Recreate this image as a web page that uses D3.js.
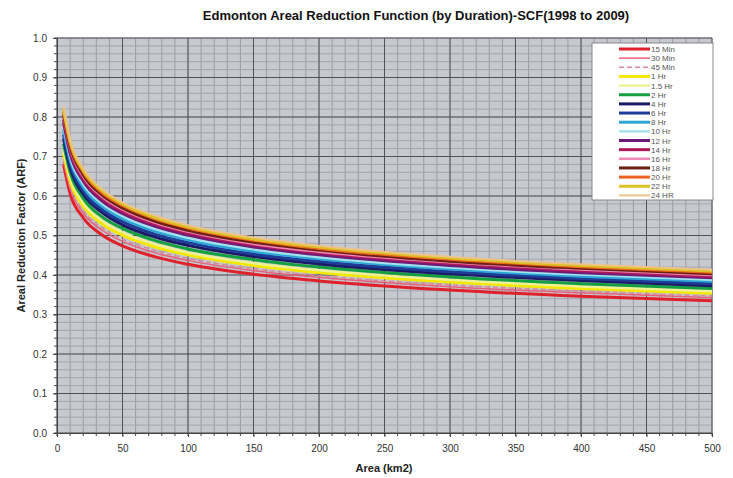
<!DOCTYPE html>
<html>
<head>
<meta charset="utf-8">
<script src="https://cdn.jsdelivr.net/npm/d3@7"></script>
<style>
  body { margin: 0; background: #fff; }
  svg { font-family: "Liberation Sans", Arial, sans-serif; }
</style>
</head>
<body>
<svg id="chart" width="733" height="478"></svg>
<script>
const areas = [5, 10, 20, 35, 50, 75, 100, 150, 200, 300, 400, 500];

const durations = ["15 Min", "30 Min", "45 Min", "1 Hr", "1.5 Hr", "2 Hr", "4 Hr", "6 Hr", "8 Hr",
  "10 Hr", "12 Hr", "14 Hr", "16 Hr", "18 Hr", "20 Hr", "22 Hr", "24 HR"];

const arf15m = [0.680, 0.606, 0.545, 0.500, 0.474, 0.446, 0.427, 0.402, 0.385, 0.362, 0.346, 0.335];
const arf30m = [0.686, 0.618, 0.557, 0.512, 0.485, 0.456, 0.437, 0.411, 0.394, 0.370, 0.355, 0.343];
const arf45m = [0.694, 0.625, 0.563, 0.518, 0.491, 0.462, 0.442, 0.416, 0.398, 0.375, 0.359, 0.347];
const arf1h = [0.708, 0.638, 0.575, 0.528, 0.501, 0.471, 0.451, 0.424, 0.406, 0.382, 0.366, 0.354];
const arf15h = [0.718, 0.647, 0.583, 0.536, 0.508, 0.478, 0.457, 0.430, 0.412, 0.388, 0.371, 0.359];
const arf2h = [0.732, 0.660, 0.594, 0.546, 0.518, 0.487, 0.466, 0.439, 0.420, 0.395, 0.378, 0.366];
const arf4h = [0.746, 0.672, 0.605, 0.557, 0.527, 0.496, 0.475, 0.447, 0.428, 0.403, 0.386, 0.373];
const arf6h = [0.756, 0.681, 0.613, 0.564, 0.535, 0.503, 0.482, 0.453, 0.434, 0.408, 0.391, 0.378];
const arf8h = [0.768, 0.692, 0.623, 0.573, 0.543, 0.511, 0.489, 0.460, 0.441, 0.415, 0.397, 0.384];
const arf10h = [0.776, 0.699, 0.630, 0.579, 0.549, 0.516, 0.494, 0.465, 0.445, 0.419, 0.401, 0.388];
const arf12h = [0.786, 0.708, 0.638, 0.586, 0.556, 0.523, 0.501, 0.471, 0.451, 0.424, 0.406, 0.393];
const arf14h = [0.794, 0.715, 0.644, 0.592, 0.561, 0.528, 0.506, 0.476, 0.456, 0.429, 0.411, 0.397];
const arf16h = [0.800, 0.721, 0.649, 0.597, 0.566, 0.532, 0.510, 0.479, 0.459, 0.432, 0.414, 0.400];
const arf18h = [0.806, 0.726, 0.654, 0.601, 0.570, 0.536, 0.513, 0.483, 0.463, 0.435, 0.417, 0.403];
const arf20h = [0.814, 0.733, 0.661, 0.607, 0.576, 0.542, 0.519, 0.488, 0.467, 0.440, 0.421, 0.407];
const arf22h = [0.820, 0.739, 0.665, 0.612, 0.580, 0.545, 0.522, 0.491, 0.471, 0.443, 0.424, 0.410];
const arf24h = [0.828, 0.744, 0.670, 0.616, 0.584, 0.550, 0.526, 0.495, 0.474, 0.446, 0.427, 0.413];

const seriesValues = [arf15m, arf30m, arf45m, arf1h, arf15h, arf2h, arf4h, arf6h, arf8h,
  arf10h, arf12h, arf14h, arf16h, arf18h, arf20h, arf22h, arf24h];

const colors = ["#e0202a", "#e8607c", "#d88898", "#f4e800", "#eef294", "#14a040", "#1a1a66", "#1e3c96", "#2ca6d6",
  "#a6e2ec", "#6c1c78", "#b0185a", "#f088b8", "#6c2014", "#ec6420", "#dcc024", "#ecc488"];
const widths = [3, 1.5, 1.5, 3, 2.5, 3, 3, 3, 3, 2.5, 3, 3, 2.5, 3, 3, 3, 2];

const xTicks = d3.range(0, 501, 50);
const yTicks = d3.range(0, 1.01, 0.1);

const svg = d3.select('#chart');
const padL = 57, padR = 712, padT = 38, padB = 433;

const x = d3.scaleLinear().domain([0, 500]).range([padL, padR]);
const y = d3.scaleLinear().domain([0, 1]).range([padB, padT]);

svg.append('rect')
  .attr('x', padL).attr('y', padT)
  .attr('width', padR - padL).attr('height', padB - padT)
  .attr('fill', '#c6c9cf');

// minor grid
svg.append('g')
  .selectAll('line').data(d3.range(0, 501, 10)).join('line')
  .attr('x1', d => x(d)).attr('x2', d => x(d)).attr('y1', padT).attr('y2', padB)
  .attr('stroke', '#9a9ca2').attr('stroke-width', 1);
svg.append('g')
  .selectAll('line').data(d3.range(0, 51).map(i => i * 0.02)).join('line')
  .attr('x1', padL).attr('x2', padR).attr('y1', d => y(d)).attr('y2', d => y(d))
  .attr('stroke', '#a4a6ac').attr('stroke-width', 1);

// major grid
svg.append('g')
  .selectAll('line').data(xTicks).join('line')
  .attr('x1', d => x(d)).attr('x2', d => x(d)).attr('y1', padT).attr('y2', padB)
  .attr('stroke', '#505258').attr('stroke-width', 1);
svg.append('g')
  .selectAll('line').data(yTicks).join('line')
  .attr('x1', padL).attr('x2', padR).attr('y1', d => y(d)).attr('y2', d => y(d))
  .attr('stroke', '#505258').attr('stroke-width', 1);

// axes
const xAxis = d3.axisBottom(x).tickValues(xTicks).tickFormat(d3.format('d')).tickSize(4).tickPadding(8);
const yAxis = d3.axisLeft(y).tickValues(yTicks).tickFormat(d3.format('.1f')).tickSize(4).tickPadding(6);

svg.append('g')
  .attr('transform', `translate(0,${padB})`)
  .call(xAxis)
  .call(g => g.select('.domain').attr('stroke', '#444'))
  .call(g => g.selectAll('line').attr('stroke', '#444'))
  .call(g => g.selectAll('text').attr('fill', '#333').style('font-size', '10px'));

svg.append('g')
  .attr('transform', `translate(${padL},0)`)
  .call(yAxis)
  .call(g => g.select('.domain').attr('stroke', '#444'))
  .call(g => g.selectAll('line').attr('stroke', '#444'))
  .call(g => g.selectAll('text').attr('fill', '#333').style('font-size', '10px'));

// minor ticks
svg.append('g')
  .selectAll('line').data(d3.range(0, 501, 10)).join('line')
  .attr('x1', d => x(d)).attr('x2', d => x(d)).attr('y1', padB).attr('y2', padB + 3)
  .attr('stroke', '#444');
svg.append('g')
  .selectAll('line').data(d3.range(0, 51).map(i => i * 0.02)).join('line')
  .attr('x1', padL - 3).attr('x2', padL).attr('y1', d => y(d)).attr('y2', d => y(d))
  .attr('stroke', '#444');

// curves
const line = d3.line()
  .x((d, i) => x(areas[i]))
  .y(d => y(d))
  .curve(d3.curveMonotoneX);

svg.append('g')
  .selectAll('path').data(seriesValues).join('path')
  .attr('d', d => line(d))
  .attr('fill', 'none')
  .attr('stroke', (d, i) => colors[i])
  .attr('stroke-width', (d, i) => widths[i])
  .attr('stroke-dasharray', (d, i) => i === 2 ? '5,3' : null);

// legend
const lg = svg.append('g').attr('transform', 'translate(592,43)');
lg.append('rect')
  .attr('width', 121).attr('height', 157)
  .attr('fill', '#fff').attr('stroke', '#888');
const items = lg.selectAll('g').data(durations).join('g')
  .attr('transform', (d, i) => `translate(0,${6 + i * 9.15})`);
items.append('line')
  .attr('x1', 27).attr('x2', 58)
  .attr('stroke', (d, i) => colors[i])
  .attr('stroke-width', (d, i) => widths[i])
  .attr('stroke-dasharray', (d, i) => i === 2 ? '5,3' : null);
items.append('text')
  .attr('x', 59).attr('y', 3)
  .attr('fill', '#555')
  .style('font-size', '8px')
  .text(d => d);

// titles
svg.append('text')
  .attr('x', 416).attr('y', 20)
  .attr('text-anchor', 'middle')
  .style('font-size', '13px').style('font-weight', 'bold')
  .attr('fill', '#111')
  .text('Edmonton Areal  Reduction Function (by Duration)-SCF(1998 to 2009)');

svg.append('text')
  .attr('x', 384).attr('y', 472)
  .attr('text-anchor', 'middle')
  .style('font-size', '11px').style('font-weight', 'bold')
  .attr('fill', '#222')
  .text('Area (km2)');

svg.append('text')
  .attr('transform', `translate(25,${(padT + padB) / 2}) rotate(-90)`)
  .attr('text-anchor', 'middle')
  .style('font-size', '11px').style('font-weight', 'bold')
  .attr('fill', '#222')
  .text('Areal Reduction Factor (ARF)');
</script>
</body>
</html>
